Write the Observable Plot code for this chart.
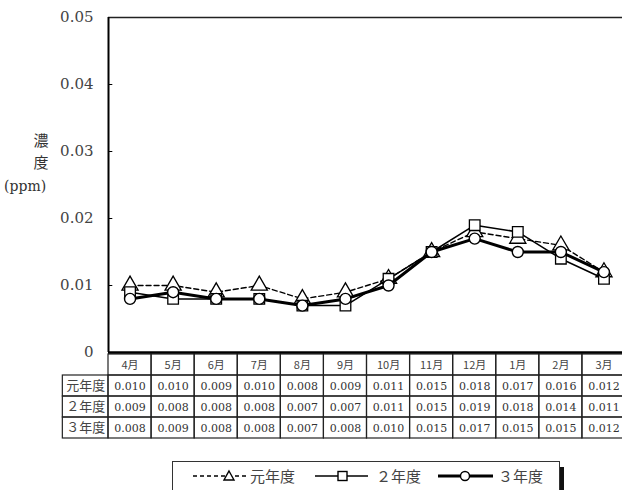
<!DOCTYPE html>
<html><head><meta charset="utf-8">
<script src="https://cdn.jsdelivr.net/npm/d3@7"></script>
<script src="https://cdn.jsdelivr.net/npm/@observablehq/plot@0.6"></script>
<style>
body{margin:0;background:#fff;}
#wrap{position:relative;width:622px;height:490px;overflow:hidden;font-family:"DejaVu Serif",serif;}
#wrap > svg{position:absolute;left:0;overflow:visible;}
.ylab{position:absolute;font-family:"Noto Sans CJK JP",sans-serif;font-size:15px;color:#333;line-height:22px;text-align:center;}
#legend{position:absolute;left:172px;top:461px;width:386px;height:40px;border:1px solid #333;box-shadow:4px 6px 0 #111;background:#fff;}
</style></head><body><div id="wrap"></div>
<script>
const months = ["4月","5月","6月","7月","8月","9月","10月","11月","12月","1月","2月","3月"];
const seriesNames = ["元年度","２年度","３年度"];
const gannen = [0.010,0.010,0.009,0.010,0.008,0.009,0.011,0.015,0.018,0.017,0.016,0.012];
const nen2   = [0.009,0.008,0.008,0.008,0.007,0.007,0.011,0.015,0.019,0.018,0.014,0.011];
const nen3   = [0.008,0.009,0.008,0.008,0.007,0.008,0.010,0.015,0.017,0.015,0.015,0.012];
const yTicks = [0,0.01,0.02,0.03,0.04,0.05];
const innerTicks = [0.01,0.02,0.03,0.04];

const allSeries = [gannen, nen2, nen3];
const toPts = (arr) => arr.map((v,i)=>({xi:i+0.5, v}));
const d1 = toPts(gannen), d2 = toPts(nen2), d3s = toPts(nen3);
const fmtY = d => d===0 ? "0" : d3.format(".2f")(d);
const SERIF = "DejaVu Serif, Liberation Serif, serif";

const W = 622, ML = 108, MR = -3;
const wrap = document.getElementById("wrap");

const chart = Plot.plot({
  width: W, height: 354,
  marginTop: 17, marginBottom: 2, marginLeft: ML, marginRight: MR,
  style: {background:"transparent", overflow:"visible"},
  x: {type:"linear", domain:[0,12], axis:null},
  y: {type:"linear", domain:[0,0.05], axis:null},
  marks: [
    Plot.ruleY([0.05], {stroke:"#222", strokeWidth:1.6}),
    Plot.ruleX([0], {stroke:"#000", strokeWidth:2}),
    Plot.ruleY(innerTicks, {x1:0, x2:0.1, stroke:"#000", strokeWidth:1}),
    Plot.text(yTicks, {y:d=>d, text:fmtY, frameAnchor:"left", textAnchor:"end", dx:-15, fontFamily:SERIF, fontSize:15, fill:"#444", style:"letter-spacing:1px"}),
    Plot.line(d1, {x:"xi", y:"v", stroke:"#000", strokeWidth:1.4, strokeDasharray:"5,3"}),
    Plot.dot(d1, {x:"xi", y:"v", symbol:"triangle", r:6, fill:"white", stroke:"#000", strokeWidth:1.3}),
    Plot.line(d2, {x:"xi", y:"v", stroke:"#000", strokeWidth:1.5}),
    Plot.dot(d2, {x:"xi", y:"v", symbol:"square", r:6, fill:"white", stroke:"#000", strokeWidth:1.3}),
    Plot.line(d3s, {x:"xi", y:"v", stroke:"#000", strokeWidth:3}),
    Plot.dot(d3s, {x:"xi", y:"v", symbol:"circle", r:5.5, fill:"white", stroke:"#000", strokeWidth:1.4}),
    Plot.ruleY([0], {stroke:"#000", strokeWidth:2.5})
  ]
});
chart.style.top = "0px";

// table cells
const cells = [];
months.forEach((m,i)=>cells.push({x1:i, x2:i+1, row:"h", text:m, kind:"head"}));
seriesNames.forEach((s,k)=>{
  cells.push({x1:-1.06, x2:0, row:s, text:s, kind:"label"});
  allSeries[k].forEach((v,i)=>cells.push({x1:i, x2:i+1, row:s, text:d3.format(".3f")(v), kind:"val"}));
});

const table = Plot.plot({
  width: W, height: 88,
  marginTop: 0, marginBottom: 1, marginLeft: ML, marginRight: MR,
  style: {background:"transparent", overflow:"visible"},
  x: {type:"linear", domain:[0,12], axis:null},
  y: {type:"band", domain:["h", ...seriesNames], padding:0, axis:null},
  marks: [
    Plot.barX(cells, {x1:"x1", x2:"x2", y:"row", fill:"none", stroke:"#222", strokeWidth:1.2, inset:0}),
    Plot.text(cells.filter(d=>d.kind==="head"), {x:d=>(d.x1+d.x2)/2, y:"row", text:"text", fontSize:11, fontFamily:"Noto Sans CJK JP", fill:"#444"}),
    Plot.text(cells.filter(d=>d.kind==="label"), {x:d=>(d.x1+d.x2)/2, y:"row", text:"text", fontSize:13, fontFamily:"Noto Sans CJK JP", fill:"#444"}),
    Plot.text(cells.filter(d=>d.kind==="val"), {x:d=>(d.x1+d.x2)/2, y:"row", text:"text", fontSize:11, fontFamily:SERIF, fill:"#333"})
  ]
});
table.style.top = "352px";
wrap.appendChild(table);
wrap.appendChild(chart);

// y label
const yl1 = document.createElement("div");
yl1.className = "ylab"; yl1.style.left = "32px"; yl1.style.top = "129px"; yl1.style.width="18px";
yl1.innerHTML = "濃<br>度";
wrap.appendChild(yl1);
const yl2 = document.createElement("div");
yl2.className = "ylab"; yl2.style.left = "4px"; yl2.style.top = "175px";
yl2.style.fontFamily = SERIF; yl2.style.fontSize = "14px";
yl2.textContent = "(ppm)";
wrap.appendChild(yl2);

// legend
const lg = document.createElement("div");
lg.id = "legend";
lg.innerHTML = `<svg width="386" height="40" style="display:block">
 <g font-family="Noto Sans CJK JP" font-size="15" fill="#444">
  <line x1="20" x2="73" y1="14" y2="14" stroke="#000" stroke-width="1.5" stroke-dasharray="4,3"/>
  <path d="M56,9 L61,18 L51,18 Z" fill="#fff" stroke="#000" stroke-width="1.4"/>
  <text x="77" y="19.5">${seriesNames[0]}</text>
  <line x1="142" x2="195" y1="14" y2="14" stroke="#000" stroke-width="1.5"/>
  <rect x="165" y="9.5" width="9" height="9" fill="#fff" stroke="#000" stroke-width="1.4"/>
  <text x="203" y="19.5">${seriesNames[1]}</text>
  <line x1="265" x2="320" y1="14" y2="14" stroke="#000" stroke-width="3"/>
  <circle cx="292" cy="14" r="4.5" fill="#fff" stroke="#000" stroke-width="1.4"/>
  <text x="325" y="19.5">${seriesNames[2]}</text>
 </g></svg>`;
wrap.appendChild(lg);
</script></body></html>
